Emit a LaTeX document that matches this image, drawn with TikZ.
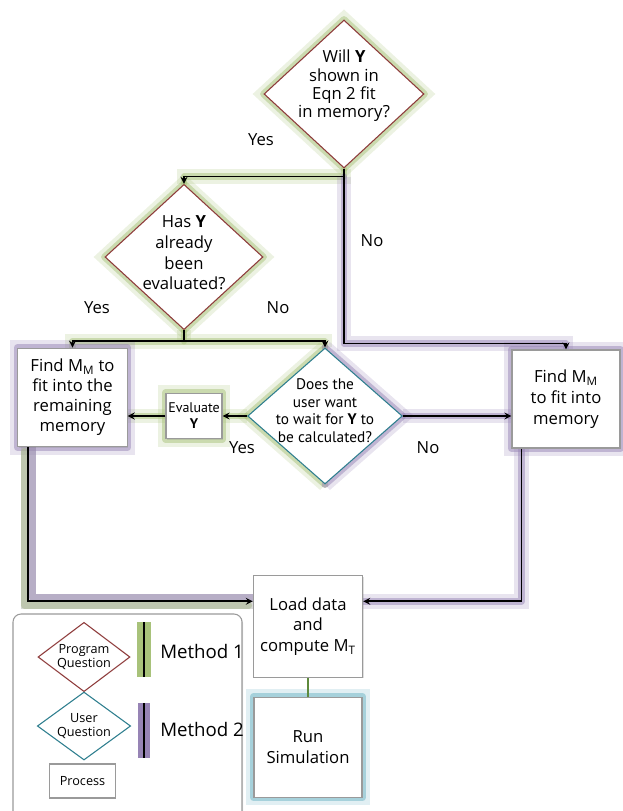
\documentclass[tikz,border=0pt]{standalone}
\usepackage{fontspec}
\setmainfont{Open Sans}
\newfontfamily\narrowfont{PT Sans}
\usetikzlibrary{shapes.geometric,backgrounds,shadows}
\definecolor{progred}{HTML}{8E3B3B}
\definecolor{userteal}{HTML}{2F7F8F}
\definecolor{glowgreen}{HTML}{A8C27A}
\definecolor{glowpurple}{HTML}{9784B5}
\definecolor{glowteal}{HTML}{86C0CE}
\definecolor{boxgray}{HTML}{9A9A9A}
\definecolor{linkgreen}{HTML}{5E8A3C}

\begin{document}
\begin{tikzpicture}[x=0.75pt, y=-0.75pt, ->, >=stealth, line width=1.3pt,
  progq/.style={diamond, draw=progred, line width=0.8pt, fill=white, inner sep=0pt},
  userq/.style={diamond, draw=userteal, line width=0.8pt, fill=white, inner sep=0pt},
  process/.style={rectangle, draw=boxgray, line width=0.8pt, fill=white, align=center, inner sep=0pt,
    font=\fontsize{12.5}{15}\selectfont,
    drop shadow={opacity=0.25, shadow xshift=0.8pt, shadow yshift=-0.8pt}},
  qtext/.style={align=center, font=\fontsize{12.5}{13.7}\selectfont},
  legtext/.style={align=center, font=\fontsize{9.5}{11}\selectfont},
  answer/.style={font=\fontsize{12.5}{15}\selectfont},
  method/.style={anchor=west, font=\fontsize{14}{16}\selectfont},
  glowG/.style={-, draw=glowgreen, line width=5pt, line join=round, line cap=round, opacity=0.5,
    preaction={draw=glowgreen, line width=11pt, opacity=0.22}},
  glowP/.style={-, draw=glowpurple, line width=5pt, line join=round, line cap=round, opacity=0.5,
    preaction={draw=glowpurple, line width=11pt, opacity=0.22}},
  glowT/.style={-, draw=glowteal, line width=5pt, line join=round, line cap=round, opacity=0.65,
    preaction={draw=glowteal, line width=11pt, opacity=0.25}}]
  \useasboundingbox (0,0) rectangle (622,811);

  \node[progq, minimum width=120pt, minimum height=111pt,
    label={[qtext, yshift=6pt]center:{Will \textbf{Y}\\shown in\\Eqn 2 fit\\in memory?}}] (fit) at (344,94) {};
  \node[progq, minimum width=118.5pt, minimum height=109pt,
    label={[qtext, font=\fontsize{12.5}{15.5}\selectfont, yshift=3pt]center:{Has \textbf{Y}\\already\\been\\evaluated?}}] (evald) at (184,257) {};
  \node[userq, minimum width=116pt, minimum height=102pt,
    label={[qtext, font=\narrowfont\fontsize{11.5}{13.3}\selectfont, yshift=4pt]center:{Does the\\user want\\to wait for \textbf{Y} to\\be calculated?}}] (wait) at (325,416) {};

  \node[process, minimum width=82pt, minimum height=74pt] (remain) at (72.5,397.5) {Find M\textsubscript{M} to\\fit into the\\remaining\\memory};
  \node[process, minimum width=42pt, minimum height=34pt, font=\narrowfont\fontsize{10.5}{12}\selectfont] (evaluate) at (194,416) {Evaluate\\\textbf{Y}};
  \node[process, minimum width=81pt, minimum height=73.5pt, font=\fontsize{12.5}{15.7}\selectfont] (fitmem) at (566,399) {Find M\textsubscript{M}\\to fit into\\memory};
  \node[process, minimum width=82pt, minimum height=76pt, font=\fontsize{12.5}{15.6}\selectfont] (load) at (308,626.5) {Load data\\and\\compute M\textsubscript{T}};
  \node[process, minimum width=81pt, minimum height=75pt, font=\fontsize{12.5}{15.7}\selectfont, below of=load, node distance=90.4pt] (run) {Run\\Simulation};

  \draw (fit.south) -- ++(0,8) coordinate (yesturn) -| (evald.north);
  \draw (fit.south) -- ++(0,175) -| (fitmem.north);
  \draw (evald.south) -- ++(0,11) coordinate (split) -| (remain.north);
  \draw (split) -| (wait.north);
  \draw (wait.west) -- (evaluate.east);
  \draw (evaluate.west) -- (evaluate.west -| remain.east);
  \draw (wait.east) -- (wait.east -| fitmem.west);
  \draw (remain.south west) ++(11,0) |- ([yshift=-19.5pt]load.north west);
  \draw (fitmem.south west) ++(10,0) |- ([yshift=-19.5pt]load.north east);
  \draw[-, linkgreen, line width=0.8pt] (load.south) -- (run.north);

  \node[answer] (yes1) at (261,140) {Yes};
  \node[answer] (no1) at (372,241) {No};
  \node[answer] (yes2) at (97,308) {Yes};
  \node[answer] (no2) at (278,308) {No};
  \node[answer] (yes3) at (242,448) {Yes};
  \node[answer] (no3) at (428,448) {No};

  \node[draw=boxgray, fill=white, line width=0.8pt, rounded corners=6pt, minimum width=171.75pt, minimum height=154.5pt,
    drop shadow={opacity=0.25, shadow xshift=0.8pt, shadow yshift=-0.8pt}] (legend) at (127.5,717) {};
  \node[progq, minimum width=69pt, minimum height=52pt, label={[legtext]center:{Program\\Question}}] (pq) at (84,657) {};
  \node[userq, minimum width=70pt, minimum height=51pt, label={[legtext]center:{User\\Question}}] (uq) at (84,726) {};
  \node[process, minimum width=49pt, minimum height=25.5pt, font=\fontsize{9.5}{11}\selectfont] (proc) at (82.5,781) {Process};
  \coordinate (m1a) at (144,622);
  \coordinate (m1b) at (144,677);
  \coordinate (m2a) at (144,703);
  \coordinate (m2b) at (144,758);
  \draw[-, glowgreen, line width=10pt] (m1a) -- (m1b);
  \draw[-] (m1a) -- (m1b);
  \draw[-, glowpurple, line width=9pt] (m2a) -- (m2b);
  \draw[-] (m2a) -- (m2b);
  \node[method] (m1) at (155,651) {Method 1};
  \node[method] (m2) at (155,729) {Method 2};

  \begin{scope}[on background layer]
    \draw[glowG] (fit.north) -- (fit.east) -- (fit.south) -- (fit.west) -- cycle;
    \draw[glowG] (fit.south) -- (yesturn) -| (evald.north);
    \draw[glowG] (evald.north) -- (evald.east) -- (evald.south) -- (evald.west) -- cycle;
    \draw[glowG] (remain.north) |- (split) -| (wait.north);
    \draw[glowG] (evald.south) -- (split);
    \draw[glowG] (wait.north) -- (wait.west) -- (wait.south);
    \draw[glowP] (wait.north) -- (wait.east) -- (wait.south);
    \draw[glowG] (wait.west) -- (wait.west -| remain.east);
    \draw[glowG] (evaluate.north west) rectangle (evaluate.south east);
    \draw[glowP] (yesturn) -- ++(0,167) -| (fitmem.north);
    \draw[glowP] (wait.east) -- (wait.east -| fitmem.west);
    \draw[glowP] (remain.north west) rectangle (remain.south east);
    \draw[glowP] (fitmem.north west) rectangle (fitmem.south east);
    \draw[glowG, transform canvas={xshift=-3pt, yshift=-3pt}] (remain.south west) ++(11,0) |- ([yshift=-19.5pt]load.north west);
    \draw[glowP, transform canvas={xshift=3pt, yshift=3pt}] (remain.south west) ++(11,0) |- ([yshift=-19.5pt]load.north west);
    \draw[glowP] (fitmem.south west) ++(10,0) |- ([yshift=-19.5pt]load.north east);
    \draw[glowT] (run.north west) rectangle (run.south east);
  \end{scope}
\end{tikzpicture}
\end{document}
